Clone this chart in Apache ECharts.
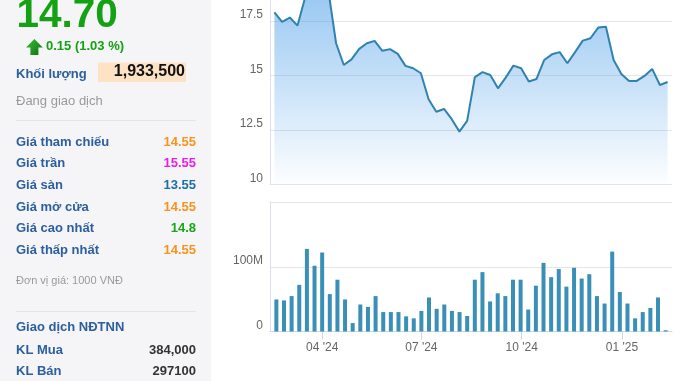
<!DOCTYPE html>
<html><head><meta charset="utf-8">
<script src="https://cdn.jsdelivr.net/npm/echarts@6/dist/echarts.min.js"></script>
<style>html,body{margin:0;padding:0;background:#fff}#c{width:678px;height:381px}</style>
</head><body><div id="c"></div>
<script>
// ---- data ----
const dates = ['2024-02-19','2024-02-26','2024-03-04','2024-03-11','2024-03-18','2024-03-25','2024-04-01','2024-04-08','2024-04-15','2024-04-22','2024-04-29','2024-05-06','2024-05-13','2024-05-20','2024-05-27','2024-06-03','2024-06-10','2024-06-17','2024-06-24','2024-07-01','2024-07-08','2024-07-15','2024-07-22','2024-07-29','2024-08-05','2024-08-12','2024-08-19','2024-08-26','2024-09-02','2024-09-09','2024-09-16','2024-09-23','2024-09-30','2024-10-07','2024-10-14','2024-10-21','2024-10-28','2024-11-04','2024-11-11','2024-11-18','2024-11-25','2024-12-02','2024-12-09','2024-12-16','2024-12-23','2024-12-30','2025-01-06','2025-01-13','2025-01-20','2025-01-27','2025-02-03','2025-02-10'];
const closes = [17.90,17.46,17.66,17.29,18.6,19.2,19.5,18.9,16.48,15.48,15.74,16.22,16.48,16.59,16.13,16.21,15.99,15.44,15.33,15.10,13.91,13.33,13.46,12.99,12.42,12.91,14.92,15.15,15.02,14.41,14.90,15.45,15.33,14.72,14.84,15.71,15.97,16.07,15.56,16.07,16.60,16.71,17.20,17.24,15.71,15.07,14.75,14.75,14.98,15.30,14.56,14.70];
const volumes = [49.5,48,54.7,72,127.6,101.5,122,57.8,80,49.5,13,41.7,38,54.7,30,30,30,23.4,20.3,31.8,52.6,35,41.7,31.8,30,24,80,91.7,46.4,59,54.7,80,80,33.9,70.8,106,83.9,96.4,69.3,98.4,81.8,88.5,54.7,43.2,123.4,61,43.2,20.3,30,36.4,52.6,1.9];
const tickLabels = ["04 '24","07 '24","10 '24","01 '25"];
const axisStart = '2024-02-15';
const axisEnd = '2025-02-14';

const lastPrice = '14.70';
const change = '0.15 (1.03 %)';
const volumeLabel = 'Khối lượng';
const volumeValue = '1,933,500';
const statusText = 'Đang giao dịch';
const panelLabels = ['Giá tham chiếu','Giá trần','Giá sàn','Giá mở cửa','Giá cao nhất','Giá thấp nhất'];
const panelValues = ['14.55','15.55','13.55','14.55','14.8','14.55'];
const unitText = 'Đơn vị giá: 1000 VNĐ';
const foreignTitle = 'Giao dịch NĐTNN';
const foreignLabels = ['KL Mua','KL Bán'];
const foreignValues = ['384,000','297100'];

// ---- styles ----
const FONT = "'Liberation Sans', Arial, Helvetica, sans-serif";
const BLUE = '#2b5f9e';
const valueColors = ['#f7941d','#e91ee9','#1c6fa5','#f7941d','#16a816','#f7941d'];

const chart = echarts.init(document.getElementById('c'), null, {renderer: 'canvas'});

function quarterFmt(v) {
  const d = new Date(v);
  const m = d.getMonth() + 1;
  const s = (m < 10 ? '0' : '') + m + " '" + String(d.getFullYear()).slice(2);
  return (d.getDate() === 1 && tickLabels.includes(s)) ? s : '';
}

function txt(text, x, y, opts) {
  return {
    type: 'text', x: x, y: y, silent: true,
    style: Object.assign({
      text: text, fontFamily: FONT, fontSize: 13, fontWeight: 'bold', fill: BLUE,
      align: 'left', verticalAlign: 'middle'
    }, opts || {})
  };
}

const graphics = [
  {type: 'rect', shape: {x: 0, y: 0, width: 211, height: 381}, style: {fill: '#f5f4f6'}, silent: true, z: -10},
  txt(lastPrice, 16.5, 15.6, {fontSize: 40.5, fill: '#14a214'}),
  {type: 'polygon', silent: true, shape: {points: [[26,47.5],[34.4,39],[42.8,47.5],[38.4,47.5],[38.4,55],[30.4,55],[30.4,47.5]]},
    style: {fill: new echarts.graphic.LinearGradient(0,0,1,1,[{offset:0,color:'#3cbf3c'},{offset:1,color:'#0c6f0c'}])}},
  txt(change, 46, 46.6, {fontSize: 13, fill: '#14a214'}),
  txt(volumeLabel, 16, 74.8, {fontSize: 13}),
  {type: 'rect', silent: true, shape: {x: 98, y: 62.5, width: 88, height: 19.5}, style: {fill: '#fde2c4'}},
  txt(volumeValue, 185, 71.6, {fontSize: 16, fill: '#111', align: 'right'}),
  txt(statusText, 16, 101.4, {fontSize: 13, fontWeight: 'normal', fill: '#9a9a9a'}),
  {type: 'line', silent: true, shape: {x1: 16, y1: 120.5, x2: 196, y2: 120.5}, style: {stroke: '#e4e3e6', lineWidth: 1}},
  txt(unitText, 16, 281, {fontSize: 11, fontWeight: 'normal', fill: '#9a9a9a'}),
  {type: 'line', silent: true, shape: {x1: 16, y1: 311.5, x2: 196, y2: 311.5}, style: {stroke: '#e4e3e6', lineWidth: 1}},
  txt(foreignTitle, 16, 327, {})
];
panelLabels.forEach((l, i) => {
  const y = 142 + i * 21.68;
  graphics.push(txt(l, 16, y, {}));
  graphics.push(txt(panelValues[i], 196, y, {fill: valueColors[i], align: 'right'}));
});
foreignLabels.forEach((l, i) => {
  const y = 350.4 + i * 21;
  graphics.push(txt(l, 16, y, {}));
  graphics.push(txt(foreignValues[i], 196, y, {fill: '#333', align: 'right'}));
});

const DAY = 86400000;
const timeAxisBase = {
  type: 'time', min: axisStart, max: axisEnd, splitNumber: 4,
  minInterval: 95 * DAY, maxInterval: 95 * DAY,
  splitLine: {show: false}
};

const option = {
  animation: false,
  backgroundColor: '#ffffff',
  textStyle: {fontFamily: FONT},
  graphic: graphics,
  grid: [
    {left: 270, right: 6, top: -33.4, height: 217.7, containLabel: false, outerBoundsMode: 'none'},
    {left: 270, right: 6, top: 202, height: 129.5, containLabel: false, outerBoundsMode: 'none'}
  ],
  xAxis: [
    Object.assign({}, timeAxisBase, {
      gridIndex: 0,
      axisLine: {show: true, lineStyle: {color: '#e2e4e8'}},
      axisTick: {show: false}, axisLabel: {show: false}
    }),
    Object.assign({}, timeAxisBase, {
      gridIndex: 1,
      axisLine: {show: true, lineStyle: {color: '#ccd6eb'}},
      axisTick: {show: true, length: 8, lineStyle: {color: '#ccd6eb'}},
      axisLabel: {formatter: quarterFmt, color: '#666', fontSize: 12, margin: 10, fontFamily: FONT,
        showMinLabel: false, showMaxLabel: false}
    })
  ],
  yAxis: [
    {type: 'value', gridIndex: 0, min: 10, max: 20, interval: 2.5,
      axisLine: {show: true, lineStyle: {color: '#d8e0eb'}}, axisTick: {show: false},
      axisLabel: {color: '#666', fontSize: 12, margin: 7, verticalAlign: 'bottom', fontFamily: FONT},
      splitLine: {show: true, lineStyle: {color: '#e6e6e6'}}},
    {type: 'value', gridIndex: 1, min: 0, max: 200, interval: 100,
      axisLine: {show: true, lineStyle: {color: '#d8e0eb'}}, axisTick: {show: false},
      axisLabel: {color: '#666', fontSize: 12, margin: 7, verticalAlign: 'bottom', fontFamily: FONT,
        showMaxLabel: false, formatter: v => v === 0 ? '0' : v + 'M'},
      splitLine: {show: true, lineStyle: {color: '#e6e6e6'}}}
  ],
  series: [
    {type: 'line', xAxisIndex: 0, yAxisIndex: 0, symbol: 'none',
      data: dates.map((d, i) => [d, closes[i]]),
      lineStyle: {color: '#2f83b0', width: 2},
      itemStyle: {color: '#2f83b0'},
      areaStyle: {color: new echarts.graphic.LinearGradient(0, 0, 0, 1, [
        {offset: 0, color: 'rgba(70,155,232,0.85)'},
        {offset: 1, color: 'rgba(70,155,232,0.02)'}
      ])}},
    {type: 'bar', xAxisIndex: 1, yAxisIndex: 1, barWidth: 4,
      data: dates.map((d, i) => [d, volumes[i]]),
      itemStyle: {color: '#3a8fb7'}}
  ]
};
chart.setOption(option);
</script>
</body></html>
